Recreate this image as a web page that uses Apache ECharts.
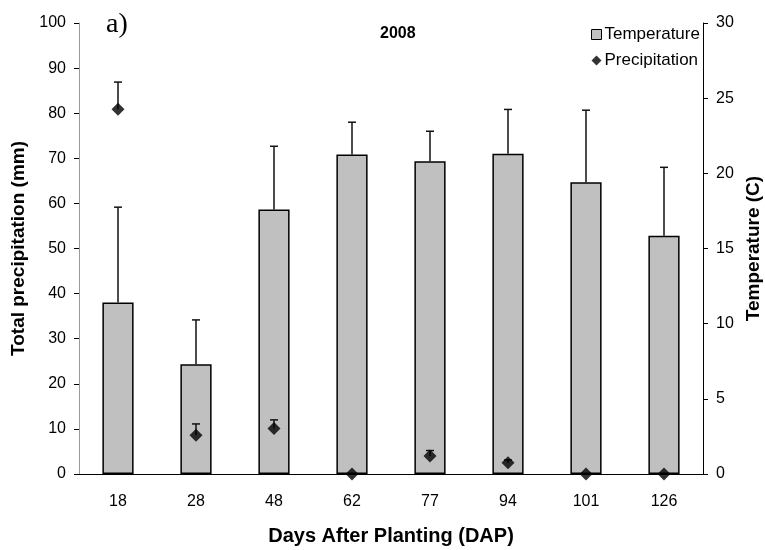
<!DOCTYPE html>
<html>
<head>
<meta charset="utf-8">
<script src="https://cdn.jsdelivr.net/npm/echarts@6/dist/echarts.min.js"></script>
<style>
  html, body { margin: 0; padding: 0; background: #fff; }
  #main { width: 765px; height: 550px; }
</style>
</head>
<body>
<div id="main"></div>
<script>
// days after planting
var days = ['18', '28', '48', '62', '77', '94', '101', '126'];
// temperature (C), bars on the right axis, with upper error
var tempMean = [11.4, 7.3, 17.6, 21.25, 20.8, 21.3, 19.4, 15.85];
var tempErr = [6.35, 2.95, 4.2, 2.15, 2.0, 2.95, 4.8, 4.55];
// total precipitation (mm), diamonds on the left axis, with upper error
var precMean = [80.9, 8.6, 10.1, 0, 4.0, 2.5, 0, 0];
var precErr = [6.0, 2.5, 1.9, 0, 1.2, 0.6, 0, 0];

var chart = echarts.init(document.getElementById('main'));
var font = 'Liberation Sans, Arial, sans-serif';

// draws a vertical whisker with a small cap from value to value+err
function errorBar(params, api) {
  var x = api.value(0);
  var lo = api.coord([x, api.value(1)]);
  var hi = api.coord([x, api.value(2)]);
  if (Math.abs(lo[1] - hi[1]) < 0.5) return;
  var cap = 4;
  return {
    type: 'group',
    children: [
      { type: 'line', shape: { x1: lo[0], y1: lo[1], x2: hi[0], y2: hi[1] },
        style: { stroke: '#111', lineWidth: 1.5 } },
      { type: 'line', shape: { x1: hi[0] - cap, y1: hi[1], x2: hi[0] + cap, y2: hi[1] },
        style: { stroke: '#111', lineWidth: 1.5 } }
    ]
  };
}

var tempErrData = days.map(function (d, i) { return [i, tempMean[i], tempMean[i] + tempErr[i]]; });
var precErrData = days.map(function (d, i) { return [i, precMean[i], precMean[i] + precErr[i]]; });

var option = {
  animation: false,
  textStyle: { fontFamily: font },
  grid: { left: 79, right: 62, top: 23, bottom: 76, containLabel: false, outerBoundsMode: 'none' },
  title: [
    { text: '2008', left: 375, top: 21,
      textStyle: { fontFamily: font, fontSize: 16, fontWeight: 'bold', color: '#000' } },
    { text: 'a)', left: 101, top: 6,
      textStyle: { fontFamily: 'Liberation Serif, Times New Roman, serif', fontSize: 28, fontWeight: 'normal', color: '#000' } }
  ],
  legend: {
    orient: 'vertical',
    left: 586,
    top: 21,
    itemGap: 9,
    itemWidth: 10,
    itemHeight: 10,
    textStyle: { fontFamily: font, fontSize: 17, color: '#000', padding: [0, 0, 0, -2] },
    data: [
      { name: 'Temperature', icon: 'rect', itemStyle: { color: '#c0c0c0', borderColor: '#000', borderWidth: 1 } },
      { name: 'Precipitation', icon: 'diamond', itemStyle: { color: '#000' } }
    ]
  },
  xAxis: {
    type: 'category',
    data: days,
    name: 'Days After Planting (DAP)',
    nameLocation: 'middle',
    nameGap: 52,
    nameTextStyle: { fontFamily: font, fontSize: 20, fontWeight: 'bold', color: '#000' },
    axisLine: { lineStyle: { color: '#000', width: 1 } },
    axisTick: { alignWithLabel: false, length: 5, lineStyle: { color: '#000' } },
    axisLabel: { fontSize: 16, color: '#000', margin: 20, fontFamily: font }
  },
  yAxis: [
    {
      type: 'value', min: 0, max: 100, interval: 10,
      name: 'Total precipitation (mm)',
      nameLocation: 'middle',
      nameGap: 46,
      nameTextStyle: { fontFamily: font, fontSize: 19, fontWeight: 'bold', color: '#000' },
      axisLine: { show: true, lineStyle: { color: '#999', width: 1 } },
      axisTick: { show: true, length: 5, lineStyle: { color: '#000' } },
      axisLabel: { fontSize: 16, color: '#000', margin: 13, fontFamily: font },
      splitLine: { show: false }
    },
    {
      type: 'value', min: 0, max: 30, interval: 5,
      name: 'Temperature (C)',
      nameLocation: 'middle',
      nameRotate: 90,
      nameGap: 38,
      nameTextStyle: { fontFamily: font, fontSize: 19, fontWeight: 'bold', color: '#000' },
      axisLine: { show: true, lineStyle: { color: '#000', width: 1 } },
      axisTick: { show: true, length: 5, lineStyle: { color: '#000' } },
      axisLabel: { fontSize: 16, color: '#000', margin: 13, fontFamily: font },
      splitLine: { show: false }
    }
  ],
  series: [
    {
      name: 'Temperature',
      type: 'bar',
      yAxisIndex: 1,
      barWidth: '40%',
      data: tempMean,
      itemStyle: { color: '#c0c0c0', borderColor: '#000', borderWidth: 1.5 },
      z: 2
    },
    {
      name: 'tempErr',
      type: 'custom',
      yAxisIndex: 1,
      renderItem: errorBar,
      data: tempErrData,
      encode: { x: 0, y: [1, 2] },
      z: 3
    },
    {
      name: 'precErr',
      type: 'custom',
      yAxisIndex: 0,
      renderItem: errorBar,
      data: precErrData,
      encode: { x: 0, y: [1, 2] },
      z: 4
    },
    {
      name: 'Precipitation',
      type: 'scatter',
      yAxisIndex: 0,
      symbol: 'diamond',
      symbolSize: [13, 13],
      data: precMean,
      itemStyle: { color: '#000' },
      z: 5
    }
  ]
};
chart.setOption(option);
</script>
</body>
</html>
